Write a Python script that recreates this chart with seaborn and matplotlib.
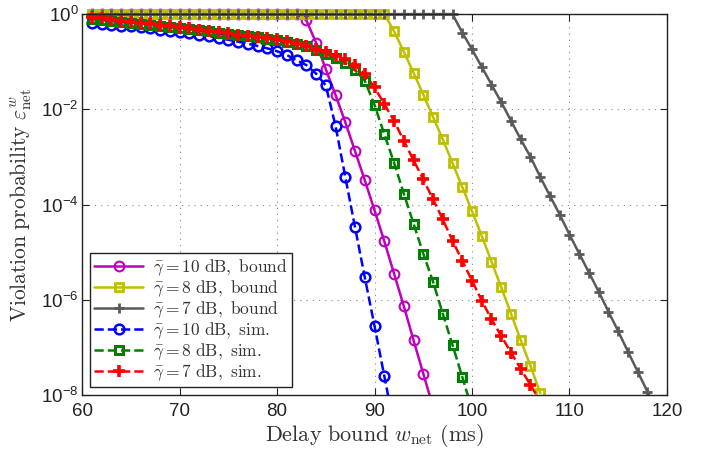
import numpy as np
import pandas as pd
import matplotlib
matplotlib.use('Agg')
import matplotlib.pyplot as plt
from matplotlib.ticker import FixedLocator, NullLocator, LogFormatterSciNotation
from matplotlib.transforms import Bbox, TransformedBbox
import seaborn as sns

# x positions (ms) of every series, one point per ms
x_b10 = list(range(61, 97))
x_b8 = list(range(61, 108))
x_b7 = list(range(61, 120))
x_s10 = list(range(61, 93))
x_s8 = list(range(61, 101))
x_s7 = list(range(61, 108))

# log10 of violation probability
log_b10 = [0.0] * 22 + [-0.13, -0.60, -1.16, -1.70, -2.27, -2.88, -3.49, -4.12,
                        -4.77, -5.45, -6.13, -6.85, -7.55, -8.25]
log_b8 = [0.0] * 31 + [-0.36, -0.79, -1.23, -1.69, -2.16, -2.63, -3.13, -3.63,
                       -4.14, -4.66, -5.20, -5.74, -6.29, -6.85, -7.39, -7.96]
log_b7 = [0.0] * 38 + [-0.39, -0.74, -1.11, -1.48, -1.85, -2.24, -2.63, -3.00,
                       -3.42, -3.82, -4.21, -4.63, -5.03, -5.43, -5.83, -6.25,
                       -6.66, -7.09, -7.51, -7.93, -8.35]
log_s10 = [-0.18, -0.20, -0.22, -0.24, -0.26, -0.28, -0.30, -0.33, -0.35, -0.38,
           -0.40, -0.43, -0.46, -0.50, -0.54, -0.58, -0.62, -0.67, -0.72, -0.78,
           -0.86, -0.97, -1.07, -1.25, -1.50, -2.35, -3.42, -4.48, -5.53, -6.55,
           -7.60, -8.65]
log_s8 = [-0.10, -0.12, -0.14, -0.16, -0.18, -0.20, -0.23, -0.25, -0.27, -0.30,
          -0.32, -0.34, -0.36, -0.39, -0.41, -0.44, -0.47, -0.49, -0.52, -0.55,
          -0.58, -0.63, -0.68, -0.76, -0.84, -0.93, -1.02, -1.18, -1.40, -1.91,
          -2.52, -3.12, -3.77, -4.40, -5.03, -5.62, -6.29, -6.95, -7.62, -8.30]
log_s7 = [-0.07, -0.09, -0.12, -0.14, -0.16, -0.19, -0.21, -0.23, -0.26, -0.28,
          -0.30, -0.33, -0.35, -0.38, -0.40, -0.43, -0.46, -0.48, -0.51, -0.53,
          -0.57, -0.62, -0.67, -0.74, -0.79, -0.88, -0.95, -1.07, -1.26, -1.54,
          -1.89, -2.24, -2.66, -3.07, -3.47, -3.89, -4.31, -4.76, -5.18, -5.60,
          -6.02, -6.41, -6.76, -7.11, -7.45, -7.79, -8.13]

labels = [r'$\bar{\gamma} = 10\ \mathrm{dB,\ bound}$',
          r'$\bar{\gamma} = 8\ \mathrm{dB,\ bound}$',
          r'$\bar{\gamma} = 7\ \mathrm{dB,\ bound}$',
          r'$\bar{\gamma} = 10\ \mathrm{dB,\ sim.}$',
          r'$\bar{\gamma} = 8\ \mathrm{dB,\ sim.}$',
          r'$\bar{\gamma} = 7\ \mathrm{dB,\ sim.}$']

sns.set_style('ticks')
plt.rcParams['font.family'] = ['Liberation Sans', 'DejaVu Sans']
plt.rcParams['mathtext.fontset'] = 'cm'

fig = plt.figure(figsize=(7.08, 4.54), dpi=100)
ax = fig.add_axes([0.116, 0.13, 0.826, 0.839])

series = [
    (x_b10, log_b10, '#bf00bf', 'o', '-', 7, 1.5),
    (x_b8, log_b8, '#bfbf00', 's', '-', 6, 2.0),
    (x_b7, log_b7, '#5a5a5a', '+', '-', 7, 2.0),
    (x_s10, log_s10, '#0000ff', 'o', '--', 7, 1.8),
    (x_s8, log_s8, '#008000', 's', '--', 6, 2.2),
    (x_s7, log_s7, '#ff0000', '+', '--', 8, 2.6),
]

for (xs, ls_, col, mk, sty, ms, mew), lab in zip(series, labels):
    df = pd.DataFrame({'w': xs, 'p': 10.0 ** np.array(ls_)})
    sns.lineplot(data=df, x='w', y='p', ax=ax, color=col, marker=mk,
                 linestyle=sty, linewidth=1.8, markersize=ms,
                 markeredgewidth=mew, markeredgecolor=col,
                 markerfacecolor='none', label=lab, legend=False)

# let markers sitting on 10^0 show fully, like the original
clip = TransformedBbox(Bbox([[0, 0], [1, 1.04]]), ax.transAxes)
for line in ax.lines:
    line.set_clip_box(clip)

ax.set_yscale('log')
ax.set_xlim(60, 120)
ax.set_ylim(1e-8, 1)
ax.xaxis.set_major_locator(FixedLocator([60, 70, 80, 90, 100, 110, 120]))
ax.yaxis.set_major_locator(FixedLocator([1e-8, 1e-6, 1e-4, 1e-2, 1]))
ax.yaxis.set_major_formatter(LogFormatterSciNotation())
ax.yaxis.set_minor_locator(NullLocator())
ax.xaxis.set_minor_locator(NullLocator())

ax.grid(True, linestyle=(0, (1, 4.6)), color='#888888', linewidth=0.8)
ax.tick_params(direction='in', top=True, right=True, length=5,
               labelsize=13.5, color='#222222', labelcolor='#222222')
ax.tick_params(axis='x', pad=6)
ax.tick_params(axis='y', pad=2.5)
for sp in ax.spines.values():
    sp.set_color('#222222')
    sp.set_linewidth(1.0)

ax.set_xlabel(r'$\mathrm{Delay\ bound}\ w_{\mathrm{net}}\ \mathrm{(ms)}$',
              fontsize=16, color='#333333', labelpad=1)
ax.set_ylabel(r'$\mathrm{Violation\ probability}\ \varepsilon_{\mathrm{net}}^{w}$',
              fontsize=15.5, color='#333333', labelpad=5)

leg = ax.legend(loc='lower left', fontsize=12.5, fancybox=False, framealpha=1,
                edgecolor='#222222', handlelength=2.8, labelspacing=0.02,
                borderaxespad=0.45, borderpad=0.25, handletextpad=0.6)
leg.get_frame().set_linewidth(1.0)
for t in leg.get_texts():
    t.set_color('#333333')

fig.savefig('out.png', dpi=100)
